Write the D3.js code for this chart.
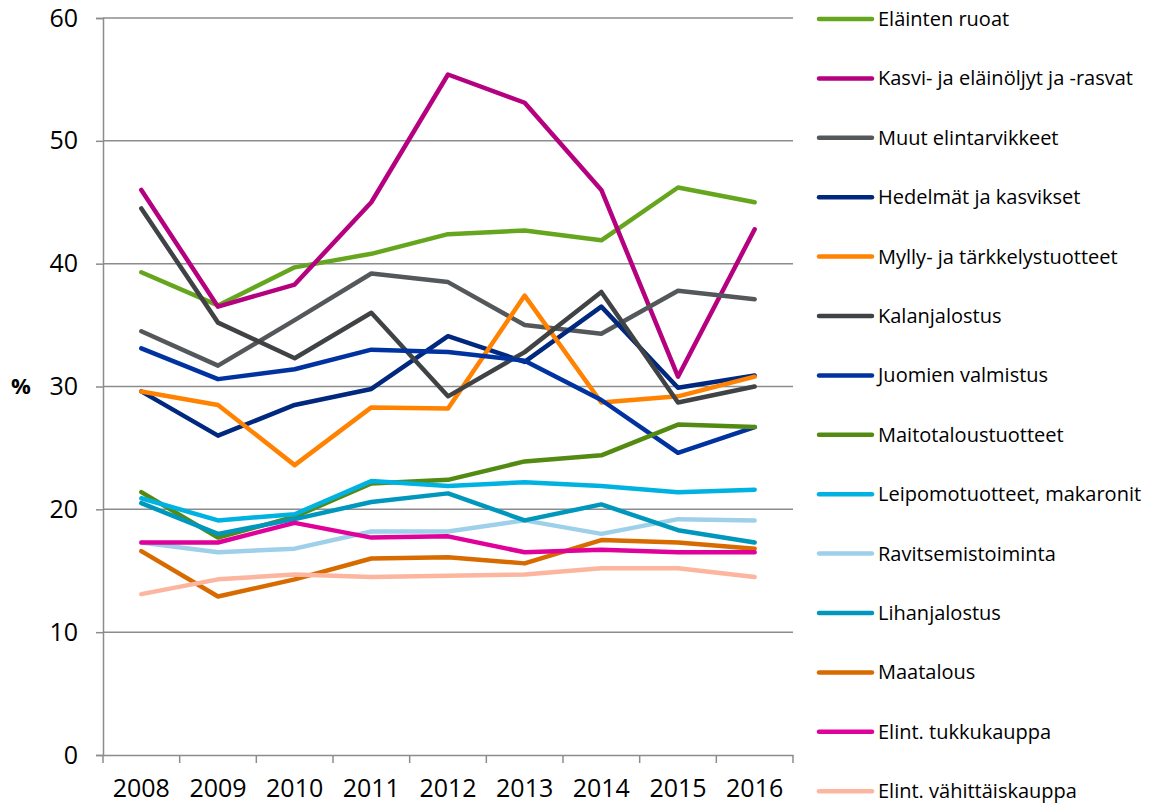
<!DOCTYPE html>
<html>
<head>
<meta charset="utf-8">
<script src="https://cdn.jsdelivr.net/npm/d3@7"></script>
<style>
  html, body { margin: 0; padding: 0; background: #fff; }
  svg { display: block; font-family: "Open Sans", "Noto Sans", sans-serif; }
</style>
</head>
<body>
<svg id="chart" width="1149" height="807"></svg>
<script>
const years = ["2008","2009","2010","2011","2012","2013","2014","2015","2016"];
const yTicks = [0, 10, 20, 30, 40, 50, 60];

const elaintenRuoat        = [39.3, 36.6, 39.7, 40.8, 42.4, 42.7, 41.9, 46.2, 45.0];
const kasviOljyt           = [46.0, 36.5, 38.3, 45.0, 55.4, 53.1, 46.0, 30.8, 42.8];
const muutElintarvikkeet   = [34.5, 31.7, 35.4, 39.2, 38.5, 35.0, 34.3, 37.8, 37.1];
const hedelmatKasvikset    = [29.6, 26.0, 28.5, 29.8, 34.1, 32.0, 36.5, 29.9, 30.9];
const myllyTarkkelys       = [29.6, 28.5, 23.6, 28.3, 28.2, 37.4, 28.7, 29.2, 30.8];
const kalanjalostus        = [44.5, 35.2, 32.3, 36.0, 29.2, 32.8, 37.7, 28.7, 30.0];
const juomienValmistus     = [33.1, 30.6, 31.4, 33.0, 32.8, 32.1, 28.9, 24.6, 26.7];
const maitotaloustuotteet  = [21.4, 17.7, 19.4, 22.1, 22.4, 23.9, 24.4, 26.9, 26.7];
const leipomotuotteet      = [20.9, 19.1, 19.6, 22.3, 21.9, 22.2, 21.9, 21.4, 21.6];
const ravitsemistoiminta   = [17.3, 16.5, 16.8, 18.2, 18.2, 19.1, 18.0, 19.2, 19.1];
const lihanjalostus        = [20.5, 18.0, 19.2, 20.6, 21.3, 19.1, 20.4, 18.3, 17.3];
const maatalous            = [16.6, 12.9, 14.3, 16.0, 16.1, 15.6, 17.5, 17.3, 16.8];
const tukkukauppa          = [17.3, 17.3, 18.9, 17.7, 17.8, 16.5, 16.7, 16.5, 16.5];
const vahittaiskauppa      = [13.1, 14.3, 14.7, 14.5, 14.6, 14.7, 15.2, 15.2, 14.5];

const seriesNames = [
  "Eläinten ruoat", "Kasvi- ja eläinöljyt ja -rasvat", "Muut elintarvikkeet",
  "Hedelmät ja kasvikset", "Mylly- ja tärkkelystuotteet", "Kalanjalostus",
  "Juomien valmistus", "Maitotaloustuotteet", "Leipomotuotteet, makaronit",
  "Ravitsemistoiminta", "Lihanjalostus", "Maatalous", "Elint. tukkukauppa",
  "Elint. vähittäiskauppa"
];
const seriesValues = [
  elaintenRuoat, kasviOljyt, muutElintarvikkeet, hedelmatKasvikset, myllyTarkkelys,
  kalanjalostus, juomienValmistus, maitotaloustuotteet, leipomotuotteet,
  ravitsemistoiminta, lihanjalostus, maatalous, tukkukauppa, vahittaiskauppa
];
const seriesColors = [
  "#66a61e", "#b5007f", "#54585a", "#00287e", "#ff8200", "#404345",
  "#0033a0", "#538a12", "#00b2e2", "#9fd0ea", "#0097bd", "#d86b00",
  "#e0009a", "#fcb59e"
];

const svg = d3.select("#chart");
const mLeft = 103, mRight = 793, mTop = 18, mBottom = 755;

const x = d3.scaleBand().domain(years).range([mLeft, mRight]);
const y = d3.scaleLinear().domain([0, 60]).range([mBottom, mTop]);

// gridlines
svg.append("g").selectAll("line").data(yTicks.filter(d => d > 0)).join("line")
  .attr("x1", mLeft).attr("x2", mRight)
  .attr("y1", d => y(d)).attr("y2", d => y(d))
  .attr("stroke", "#8c8c8c").attr("stroke-width", 1.5);

// y axis
const yAxis = d3.axisLeft(y).tickValues(yTicks).tickSize(7).tickPadding(18);
const gy = svg.append("g").attr("transform", `translate(${mLeft},0)`).call(yAxis);
gy.select(".domain").attr("stroke", "#8c8c8c").attr("stroke-width", 1.5);
gy.selectAll(".tick line").attr("stroke", "#8c8c8c").attr("stroke-width", 1.5);
gy.selectAll(".tick text").attr("font-size", 25).attr("fill", "#000")
  .attr("font-family", "'Open Sans', sans-serif");

// x axis
const xAxis = d3.axisBottom(x).tickSize(0).tickPadding(24);
const gx = svg.append("g").attr("transform", `translate(0,${mBottom})`).call(xAxis);
gx.select(".domain").attr("stroke", "#8c8c8c").attr("stroke-width", 1.5);
gx.selectAll(".tick text").attr("font-size", 25).attr("fill", "#000")
  .attr("font-family", "'Open Sans', sans-serif");
// category boundary ticks
const boundaries = years.map(d => x(d)).concat([x(years[years.length - 1]) + x.bandwidth()]);
svg.append("g").selectAll("line").data(boundaries).join("line")
  .attr("x1", d => d).attr("x2", d => d)
  .attr("y1", mBottom).attr("y2", mBottom + 8)
  .attr("stroke", "#8c8c8c").attr("stroke-width", 1.5);

// y title
svg.append("text").attr("x", 21).attr("y", y(30)).attr("dy", "0.35em")
  .attr("text-anchor", "middle").attr("font-size", 22).attr("font-weight", "bold")
  .text("%");

// lines
const line = d3.line()
  .x((d, i) => x(years[i]) + x.bandwidth() / 2)
  .y(d => y(d));

svg.append("g").selectAll("path").data(seriesValues).join("path")
  .attr("d", d => line(d))
  .attr("fill", "none")
  .attr("stroke", (d, i) => seriesColors[i])
  .attr("stroke-width", 4.5)
  .attr("stroke-linejoin", "round")
  .attr("stroke-linecap", "round");

// legend
const lg = svg.append("g");
const items = lg.selectAll("g").data(seriesNames).join("g")
  .attr("transform", (d, i) => `translate(818, ${19 + i * 59.4})`);
items.append("line").attr("x1", 1).attr("x2", 54).attr("y1", 0).attr("y2", 0)
  .attr("stroke", (d, i) => seriesColors[i]).attr("stroke-width", 4.5)
  .attr("stroke-linecap", "round");
items.append("text").attr("x", 60).attr("y", 0).attr("dy", "0.35em")
  .attr("font-size", 20).attr("fill", "#000").text(d => d);
</script>
</body>
</html>
